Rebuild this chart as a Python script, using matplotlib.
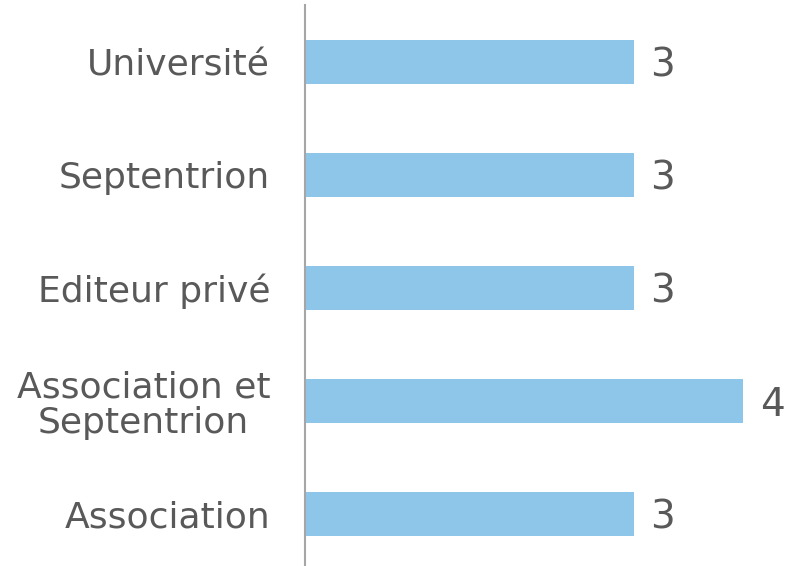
import matplotlib.pyplot as plt

categories = ['Association', 'Association et\nSeptentrion', 'Editeur privé', 'Septentrion', 'Université']
values = [3, 4, 3, 3, 3]

fig = plt.figure(figsize=(7.86, 5.66), dpi=100)
ax = fig.add_axes([0.388, 0.0, 0.612, 0.991])

ax.barh(range(len(categories)), values, height=0.39, color='#8DC6E8')
for i, v in enumerate(values):
    ax.text(v + 0.15, i, str(v), va='center_baseline', ha='left', fontsize=28, color='#595959')

ax.set_yticks(range(len(categories)))
ax.set_yticklabels(categories, fontsize=26, color='#595959')
ax.tick_params(axis='y', length=0, pad=25)
ax.set_xticks([])
ax.set_xlim(0, 4.39)
ax.set_ylim(-0.46, 4.5)
for s in ['top', 'right', 'bottom']:
    ax.spines[s].set_visible(False)
ax.spines['left'].set_color('#A6A6A6')
ax.spines['left'].set_linewidth(1.5)
for lbl in ax.get_yticklabels():
    lbl.set_multialignment('center')
    lbl.set_linespacing(1.05)

fig.savefig('out.png', dpi=100)
